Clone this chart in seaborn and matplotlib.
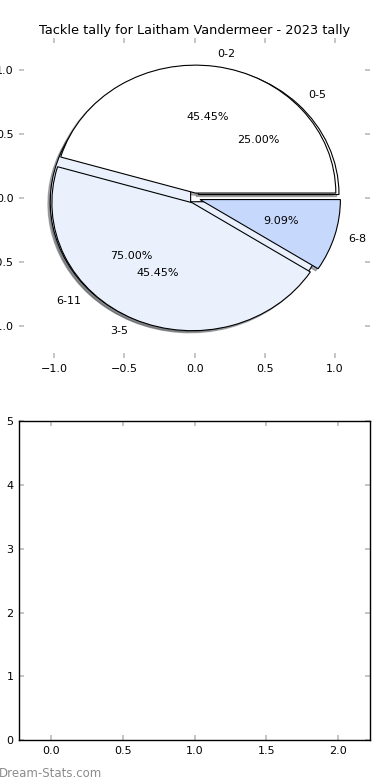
import matplotlib
matplotlib.use("Agg")
import matplotlib.pyplot as plt
import seaborn as sns

TITLE = "Tackle tally for Laitham Vandermeer - 2023 tally"

# tackles per game, bucketed two ways
small_buckets = ["0-2", "3-5", "6-8"]
small_counts = [5, 5, 1]
big_buckets = ["0-5", "6-11"]
big_counts = [1, 3]

small_colors = ["#ffffff", "#eaf1fd", "#c6d9fd"]
big_colors = ["#ffffff", "#eaf1fd"]

sns.set_theme(style="white", rc={
    "xtick.bottom": True, "xtick.top": True,
    "ytick.left": True, "ytick.right": True,
    "xtick.direction": "in", "ytick.direction": "in",
    "xtick.color": "#bbbbbb", "ytick.color": "#bbbbbb",
    "xtick.labelcolor": "black", "ytick.labelcolor": "black",
    "xtick.major.size": 3.5, "ytick.major.size": 3.5,
    "xtick.major.width": 1.2, "ytick.major.width": 1.2,
    "xtick.labelsize": 8, "ytick.labelsize": 8,
    "xtick.major.pad": 4, "ytick.major.pad": 4,
    "axes.edgecolor": "black", "axes.linewidth": 1.0,
    "text.color": "black", "axes.titlecolor": "black",
})
plt.rcParams["font.family"] = ["DejaVu Sans"]

fig = plt.figure(figsize=(3.9, 7.8), dpi=100)
ax1 = fig.add_axes([0.049, 0.541, 0.9, 0.41])
ax2 = fig.add_axes([0.049, 0.051, 0.9, 0.409])

wedge_props = {"edgecolor": "black", "linewidth": 0.8}
text_props = {"fontsize": 8, "color": "black"}
shadow_props = {"ox": -0.012, "oy": -0.012, "shade": 0.6}

ax1.pie(big_counts, labels=big_buckets, colors=big_colors,
        explode=[0.04] * len(big_counts), autopct="%1.2f%%",
        shadow=shadow_props, wedgeprops=wedge_props, textprops=text_props)
ax1.pie(small_counts, labels=small_buckets, colors=small_colors,
        explode=[0.04] * len(small_counts), autopct="%1.2f%%",
        shadow=shadow_props, wedgeprops=wedge_props, textprops=text_props)

ax1.set_aspect("auto")
ax1.set_xlim(-1.25, 1.25)
ax1.set_ylim(-1.25, 1.25)
ax1.set_xticks([-1.0, -0.5, 0.0, 0.5, 1.0])
ax1.set_yticks([-1.0, -0.5, 0.0, 0.5, 1.0])
ax1.set_title(TITLE, fontsize=9.3, pad=3)

ax2.set_xlim(-0.225, 2.225)
ax2.set_ylim(0, 5)
ax2.set_xticks([0.0, 0.5, 1.0, 1.5, 2.0])
ax2.set_yticks([0, 1, 2, 3, 4, 5])

fig.text(-0.003, 0.004, "Dream-Stats.com", color="#8c8c8c", fontsize=8.5)

fig.savefig("out.png", dpi=100)
